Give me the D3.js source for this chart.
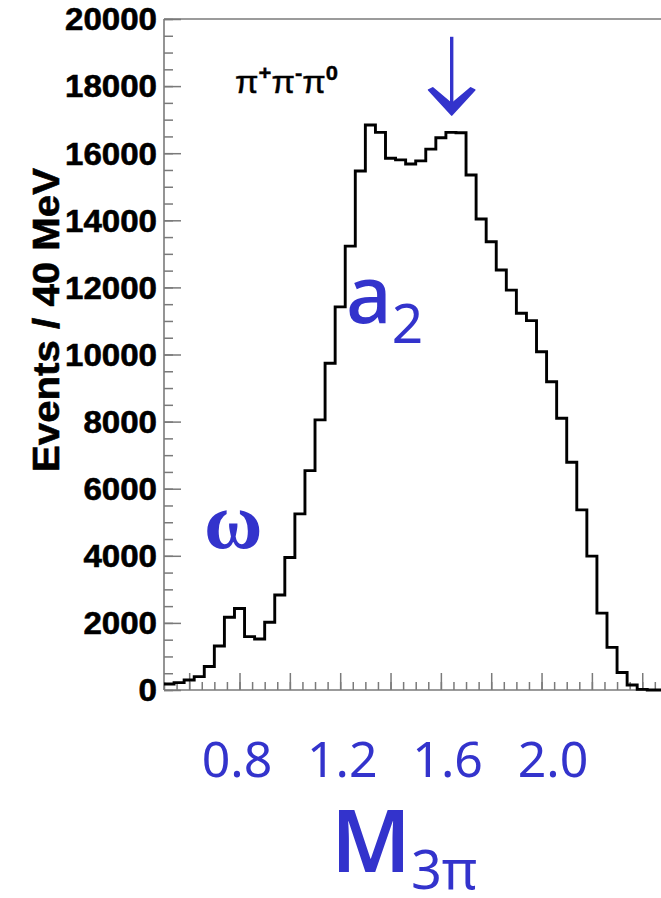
<!DOCTYPE html>
<html>
<head>
<meta charset="utf-8">
<script src="https://cdn.jsdelivr.net/npm/d3@7"></script>
<style>
  html, body { margin: 0; padding: 0; background: #ffffff; }
  svg { display: block; }
</style>
</head>
<body>
<svg id="chart" width="661" height="898"></svg>
<script>
// ---- data ----
const binStart = 0.5;
const binWidth = 0.04;
const counts = [180, 220, 300, 400, 700, 1310, 2170, 2430, 1590, 1520,
                2020, 2830, 3950, 5250, 6540, 8050, 9740, 11420, 13230, 15470,
                16840, 16620, 15850, 15800, 15680, 15770, 16120, 16460, 16620, 16610,
                15350, 14040, 13360, 12520, 11920, 11230, 11010, 10080, 9190, 8100,
                6790, 5370, 3990, 2290, 1270, 520, 150, 20, 0, 0];
const yTickValues = [0, 2000, 4000, 6000, 8000, 10000, 12000, 14000, 16000, 18000, 20000];
const xLabelValues = [0.8, 1.2, 1.6, 2.0];
const xLabelTexts = ["0.8", "1.2", "1.6", "2.0"];
const yTitle = "Events / 40 MeV";
const arrowMass = 1.643;
const arrowFrom = 19470;
const arrowTo = 17140;

// ---- scales ----
const svg = d3.select("#chart");
const x = d3.scaleLinear().domain([0.5, 2.5]).range([164, 667.4]);
const y = d3.scaleLinear().domain([0, 20000]).range([690, 19]);
const xLabel = d3.scaleLinear().domain([0.8, 2.0]).range([237, 553]);
const axisColor = "#7a7a7a";
const blue = "#3333cc";

// ---- axes ticks ----
const yMinor = d3.range(0, 41).map(i => i * 500);
svg.append("g").attr("transform", "translate(164,0)")
  .call(d3.axisRight(y).tickValues(yMinor).tickSize(9).tickFormat(""))
  .call(g => g.select(".domain").remove())
  .call(g => g.selectAll("line").attr("stroke", axisColor).attr("stroke-width", 1.5));
svg.append("g").attr("transform", "translate(164,0)")
  .call(d3.axisRight(y).tickValues(yTickValues).tickSize(17).tickFormat(""))
  .call(g => g.select(".domain").remove())
  .call(g => g.selectAll("line").attr("stroke", axisColor).attr("stroke-width", 1.5));

const xMinor = d3.range(0, 40).map(i => +(0.5 + i * 0.05).toFixed(2));
const xMajor = d3.range(0, 10).map(i => +(0.6 + i * 0.2).toFixed(2));
svg.append("g").attr("transform", "translate(0,690)")
  .call(d3.axisTop(x).tickValues(xMinor).tickSize(8).tickFormat(""))
  .call(g => g.select(".domain").remove())
  .call(g => g.selectAll("line").attr("stroke", axisColor).attr("stroke-width", 1.5));
svg.append("g").attr("transform", "translate(0,690)")
  .call(d3.axisTop(x).tickValues(xMajor).tickSize(17).tickFormat(""))
  .call(g => g.select(".domain").remove())
  .call(g => g.selectAll("line").attr("stroke", axisColor).attr("stroke-width", 1.5));

// frame lines
svg.append("line").attr("x1", 164).attr("x2", 164).attr("y1", y(20000)).attr("y2", y(0))
  .attr("stroke", axisColor).attr("stroke-width", 1.6);
svg.append("line").attr("x1", 164).attr("x2", 661).attr("y1", y(0)).attr("y2", y(0))
  .attr("stroke", axisColor).attr("stroke-width", 1.6);
svg.append("line").attr("x1", 164).attr("x2", 661).attr("y1", y(20000)).attr("y2", y(20000))
  .attr("stroke", axisColor).attr("stroke-width", 1.6);

// ---- histogram ----
const pts = counts.map((c, i) => [binStart + i * binWidth, c]);
pts.push([binStart + counts.length * binWidth, counts[counts.length - 1]]);
const line = d3.line().x(d => x(d[0])).y(d => y(d[1])).curve(d3.curveStepAfter);
svg.append("path").attr("d", line(pts)).attr("fill", "none")
  .attr("stroke", "#000").attr("stroke-width", 2.9).attr("stroke-linejoin", "miter");

// ---- y tick labels ----
yTickValues.forEach(v => {
  svg.append("g").attr("transform", `translate(157,${y(v)}) scale(1.05,1)`)
    .append("text").attr("text-anchor", "end").attr("dy", "0.36em")
    .attr("font-family", "'Liberation Sans', Arial, sans-serif")
    .attr("font-weight", "bold").attr("font-size", 31.5).attr("fill", "#000")
    .attr("stroke", "#000").attr("stroke-width", 0.6)
    .text(d3.format("d")(v));
});

// y title
svg.append("text")
  .attr("transform", "translate(59,320) rotate(-90)")
  .attr("text-anchor", "middle")
  .attr("font-family", "'Liberation Sans', Arial, sans-serif")
  .attr("font-weight", "bold").attr("font-size", 37)
  .attr("textLength", 304).attr("lengthAdjust", "spacingAndGlyphs")
  .attr("stroke", "#000").attr("stroke-width", 0.6)
  .attr("fill", "#000").text(yTitle);

// ---- x labels (blue annotations) ----
xLabelValues.forEach((v, i) => {
  svg.append("text").attr("x", xLabel(v)).attr("y", 777)
    .attr("text-anchor", "middle")
    .attr("font-family", "'Noto Sans', sans-serif").attr("font-size", 50)
    .attr("fill", blue).text(xLabelTexts[i]);
});

// M_3pi
const mt = svg.append("text").attr("x", 331).attr("y", 872)
  .attr("font-family", "'Noto Sans', sans-serif").attr("font-weight", 600).attr("fill", blue);
mt.append("tspan").attr("font-size", 86).text("M");
mt.append("tspan").attr("font-size", 54).attr("font-weight", 400).attr("dy", 17).text("3π");

// pi+ pi- pi0
const pg = svg.append("g").attr("transform", `translate(235,93) scale(1.1,1)`);
const pt = pg.append("text").attr("font-family", "'Liberation Sans', Arial, sans-serif")
  .attr("font-size", 31).attr("fill", "#000").attr("stroke", "#000").attr("stroke-width", 0.4);
pt.append("tspan").text("π");
pt.append("tspan").attr("font-size", 20).attr("font-weight", "bold").attr("dy", -13).text("+");
pt.append("tspan").attr("dy", 13).text("π");
pt.append("tspan").attr("font-size", 20).attr("font-weight", "bold").attr("dy", -13).text("-");
pt.append("tspan").attr("dy", 13).text("π");
pt.append("tspan").attr("font-size", 20).attr("font-weight", "bold").attr("dy", -13).text("0");

// a2
const at = svg.append("text").attr("x", 346).attr("y", 323)
  .attr("font-family", "'Noto Sans', sans-serif").attr("fill", blue);
at.append("tspan").attr("font-size", 80).attr("font-weight", 500).text("a");
at.append("tspan").attr("font-size", 55).attr("dy", 20).text("2");

// omega
svg.append("text").attr("x", 204).attr("y", 548)
  .attr("font-family", "'Liberation Serif', 'Times New Roman', serif")
  .attr("font-size", 80).attr("font-weight", "bold").attr("fill", blue).text("ω");

// arrow
const ax = x(arrowMass), ay0 = y(arrowFrom), ay1 = y(arrowTo);
svg.append("line").attr("x1", ax).attr("x2", ax).attr("y1", ay0).attr("y2", ay1 - 8)
  .attr("stroke", blue).attr("stroke-width", 3.4);
svg.append("path")
  .attr("d", `M${ax},${ay1} L${ax - 23},${ay1 - 25} L${ax - 19},${ay1 - 27} L${ax},${ay1 - 11} L${ax + 19},${ay1 - 27} L${ax + 23},${ay1 - 25} Z`)
  .attr("fill", blue).attr("stroke", blue).attr("stroke-width", 1.8).attr("stroke-linejoin", "round");
</script>
</body>
</html>
